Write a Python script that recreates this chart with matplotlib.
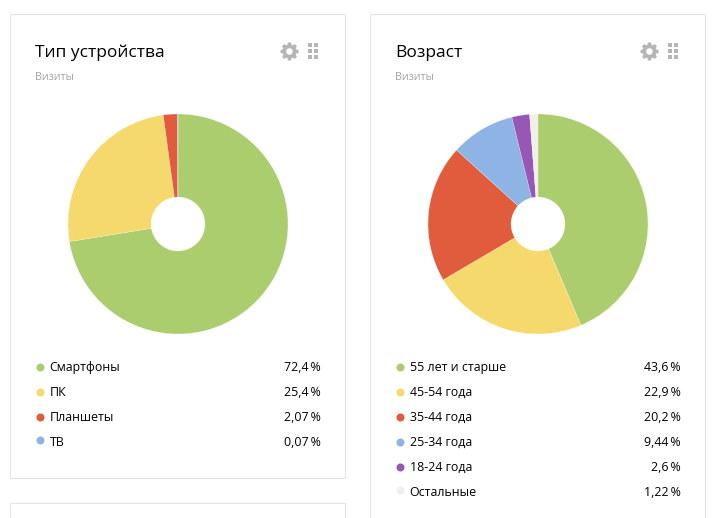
import numpy as np
import matplotlib
matplotlib.use("Agg")
import matplotlib.pyplot as plt
from matplotlib.patches import Rectangle
from matplotlib.path import Path

W, H = 726, 518

device_labels = ["Смартфоны", "ПК", "Планшеты", "ТВ"]
device_values = [72.4, 25.4, 2.07, 0.07]
device_texts = ["72,4\u2009%", "25,4\u2009%", "2,07\u2009%", "0,07\u2009%"]

age_labels = ["55 лет и старше", "45-54 года", "35-44 года", "25-34 года", "18-24 года", "Остальные"]
age_values = [43.6, 22.9, 20.2, 9.44, 2.6, 1.22]
age_texts = ["43,6\u2009%", "22,9\u2009%", "20,2\u2009%", "9,44\u2009%", "2,6\u2009%", "1,22\u2009%"]

colors = ["#abcd6e", "#f6d96c", "#e05c3d", "#8db4e5", "#9657b5", "#f0f0eb"]

plt.rcParams["font.family"] = ["Open Sans", "DejaVu Sans"]


def px(size):
    return size * 72 / 100


def gear_path(teeth=8, outer=1.0, inner=0.76, hole=0.36):
    # square-ish teeth round a ring, the hole wound the other way
    verts = []
    step = 2 * np.pi / teeth
    for i in range(teeth):
        a = i * step
        for da, r in [(-0.30, inner), (-0.17, outer), (0.17, outer), (0.30, inner)]:
            verts.append((r * np.cos(a + da), r * np.sin(a + da)))
    verts.append(verts[0])
    codes = [Path.MOVETO] + [Path.LINETO] * (len(verts) - 2) + [Path.CLOSEPOLY]
    ang = np.linspace(0, -2 * np.pi, 25)
    hole_verts = [(hole * np.cos(t), hole * np.sin(t)) for t in ang]
    hole_codes = [Path.MOVETO] + [Path.LINETO] * 23 + [Path.CLOSEPOLY]
    return Path(verts + hole_verts, codes + hole_codes)


def card(bg, x0, y0, x1, y1):
    bg.add_patch(Rectangle((x0, y0), x1 - x0, y1 - y0, fc="white", ec="#e5e5e5", lw=0.8))


def icons(bg, x):
    bg.scatter([x], [51], s=px(18) ** 2, marker=gear_path(), color="#b5b5b5", lw=0, zorder=3)
    # drag handle
    for col in (0, 1):
        for row in (0, 1, 2):
            bg.add_patch(Rectangle((x + 19 + col * 6, 43 + row * 6), 4, 4, fc="#b5b5b5", ec="none", zorder=3))


def panel(fig, bg, x0, title, labels, values, texts):
    bg.text(x0 + 25, 57, title, fontsize=px(17.4), color="#000000", va="baseline", ha="left")
    bg.text(x0 + 25, 80, "Визиты", fontsize=px(10.7), color="#a8a0a0", va="baseline", ha="left")
    icons(bg, x0 + 279)

    cx, cy, r = x0 + 168, 224, 110
    ax = fig.add_axes([(cx - r) / W, 1 - (cy + r) / H, 2 * r / W, 2 * r / H])
    ax.pie(values, colors=colors, startangle=90, counterclock=False, radius=1.0,
           wedgeprops={"width": 1 - 27 / 110, "linewidth": 0.15, "edgecolor": "white"})
    ax.set_xlim(-1, 1)
    ax.set_ylim(-1, 1)
    ax.set_aspect("equal")
    ax.axis("off")

    for i, (lab, txt) in enumerate(zip(labels, texts)):
        base = 371 + i * 25
        # the last dot of each list sits a little higher in the original
        dot_y = base - 4.5 - (2 if i == len(labels) - 1 else 0)
        bg.scatter([x0 + 30], [dot_y], s=px(8) ** 2, color=colors[i], lw=0, zorder=3)
        bg.text(x0 + 39.5, base, lab, fontsize=px(12.4), color="#000000", va="baseline", ha="left")
        bg.text(x0 + 311, base, txt, fontsize=px(12.4), color="#000000", va="baseline", ha="right")


fig = plt.figure(figsize=(W / 100, H / 100), dpi=100, facecolor="white")
bg = fig.add_axes([0, 0, 1, 1])
bg.set_xlim(0, W)
bg.set_ylim(H, 0)
bg.axis("off")

card(bg, 10, 14, 345, 478)
card(bg, 10, 503, 345, 530)
card(bg, 370, 14, 705, 530)

panel(fig, bg, 10, "Тип устройства", device_labels, device_values, device_texts)
panel(fig, bg, 370, "Возраст", age_labels, age_values, age_texts)

fig.savefig("out.png", dpi=100)
